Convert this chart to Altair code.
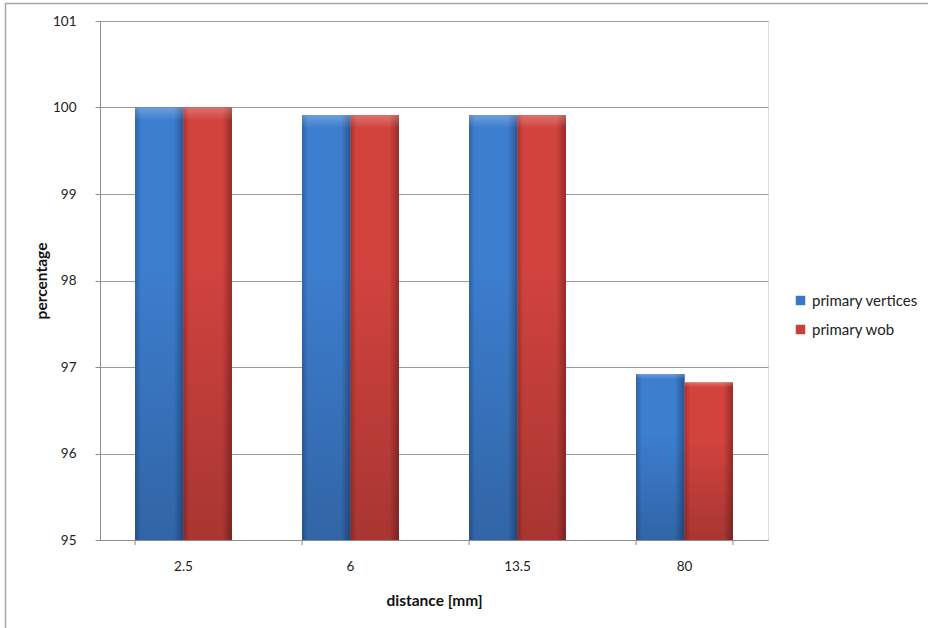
import altair as alt
import pandas as pd

# Detection efficiency per distance, two series
distances = ["2.5", "6", "13.5", "80"]
primary_vertices = [100.0, 99.91, 99.91, 96.92]
primary_wob = [100.0, 99.91, 99.91, 96.82]
series_names = ["primary vertices", "primary wob"]
y_ticks = [95, 96, 97, 98, 99, 100, 101]

rows = []
for d, v, w in zip(distances, primary_vertices, primary_wob):
    rows.append({"distance": d, "series": series_names[0], "value": v})
    rows.append({"distance": d, "series": series_names[1], "value": w})
df = pd.DataFrame(rows)

W, H = 668, 519
FONT = "Lato"

x_scale = alt.Scale(domain=distances, paddingInner=0.42, paddingOuter=0.21)
off_scale = alt.Scale(domain=series_names, paddingInner=0, paddingOuter=0)
y_scale = alt.Scale(domain=[95, 101], zero=False, nice=False)

x_enc = alt.X(
    "distance:N",
    scale=x_scale,
    sort=distances,
    axis=alt.Axis(
        title="distance [mm]",
        labelAngle=0,
        ticks=False,
        labelPadding=19,
        labelFontSize=13.5,
        labelColor="#222222",
        titleFontSize=15.5,
        titleFontWeight="bold",
        titleColor="#111111",
        titleY=60,
        titleBaseline="middle",
        domainColor="#8c8c8c",
    ),
)
y_enc = alt.Y(
    "value:Q",
    scale=y_scale,
    axis=alt.Axis(
        title="percentage",
        values=y_ticks,
        format="d",
        grid=True,
        gridColor="#9a9a9a",
        tickSize=5,
        tickColor="#8c8c8c",
        domainColor="#8c8c8c",
        labelPadding=19,
        labelFontSize=13.5,
        labelColor="#222222",
        titleFontSize=15.5,
        titleFontWeight="bold",
        titleColor="#111111",
        titleX=-59,
        titleY=H / 2,
        titleBaseline="middle",
    ),
)

base = alt.Chart(df)

# flat bars carry the legend
flat = base.mark_bar().encode(
    x=x_enc,
    xOffset=alt.XOffset("series:N", scale=off_scale),
    y=y_enc,
    y2=alt.datum(95),
    color=alt.Color(
        "series:N",
        scale=alt.Scale(domain=series_names, range=["#3a77c6", "#c9403b"]),
        legend=alt.Legend(
            title=None,
            orient="none",
            legendX=693,
            legendY=272,
            symbolType="square",
            symbolSize=90,
            symbolStrokeWidth=0,
            labelFontSize=15,
            labelColor="#222222",
            rowPadding=13,
            labelOffset=4,
        ),
    ),
)


def shaded(series, edge_l, mid, edge_r):
    grad = alt.LinearGradient(
        gradient="linear",
        x1=0, x2=1, y1=0, y2=0,
        stops=[
            alt.GradientStop(color=edge_l, offset=0),
            alt.GradientStop(color=mid, offset=0.12),
            alt.GradientStop(color=mid, offset=0.8),
            alt.GradientStop(color=edge_r, offset=1),
        ],
    )
    return base.transform_filter(alt.datum.series == series).mark_bar(fill=grad).encode(
        x=alt.X("distance:N", scale=x_scale, sort=distances),
        xOffset=alt.XOffset("series:N", scale=off_scale),
        y=alt.Y("value:Q", scale=y_scale),
        y2=alt.datum(95),
    )


shade_vert = shaded("primary vertices", "#2f62a6", "#3d7ecf", "#2a5592")
shade_wob = shaded("primary wob", "#a8322f", "#d2433e", "#962c29")

# vertical shading: bright top edge, darker towards the base
vgrad = alt.LinearGradient(
    gradient="linear",
    x1=0, x2=0, y1=0, y2=1,
    stops=[
        alt.GradientStop(color="rgba(255,255,255,0.25)", offset=0),
        alt.GradientStop(color="rgba(255,255,255,0)", offset=0.03),
        alt.GradientStop(color="rgba(0,0,0,0)", offset=0.35),
        alt.GradientStop(color="rgba(0,0,0,0.2)", offset=1),
    ],
)
shade_v = base.mark_bar(fill=vgrad).encode(
    x=alt.X("distance:N", scale=x_scale, sort=distances),
    xOffset=alt.XOffset("series:N", scale=off_scale),
    y=alt.Y("value:Q", scale=y_scale),
    y2=alt.datum(95),
)

# category separator ticks below the x axis
edges = pd.DataFrame({"distance": distances})
tick_marks = alt.Chart(edges).mark_rule(color="#8c8c8c").encode(
    x=alt.X("distance:N", scale=x_scale, sort=distances, bandPosition=0),
    y=alt.value(H),
    y2=alt.value(H + 5),
)
end_tick = alt.Chart(pd.DataFrame({"distance": [distances[-1]]})).mark_rule(color="#8c8c8c").encode(
    x=alt.X("distance:N", scale=x_scale, sort=distances, bandPosition=1),
    y=alt.value(H),
    y2=alt.value(H + 5),
)

# chart frame lines (top and left)
frame_top = alt.Chart(pd.DataFrame({"k": [0]})).mark_rule(color="#a6a6a6", strokeWidth=1.5).encode(
    x=alt.value(-95), x2=alt.value(830), y=alt.value(-17.5)
)
frame_left = alt.Chart(pd.DataFrame({"k": [0]})).mark_rule(color="#a6a6a6", strokeWidth=1.5).encode(
    x=alt.value(-94.5), y=alt.value(-18), y2=alt.value(610)
)

chart = (
    alt.layer(flat, shade_vert, shade_wob, shade_v, tick_marks, end_tick, frame_top, frame_left)
    .properties(
        width=W,
        height=H,
        autosize=alt.AutoSizeParams(type="none"),
        padding={"left": 100, "top": 21, "right": 160, "bottom": 88},
        background="white",
    )
    .configure_view(stroke=None)
    .configure(font=FONT)
)

chart.save("out.html", embed_options={"renderer": "svg", "actions": False})
